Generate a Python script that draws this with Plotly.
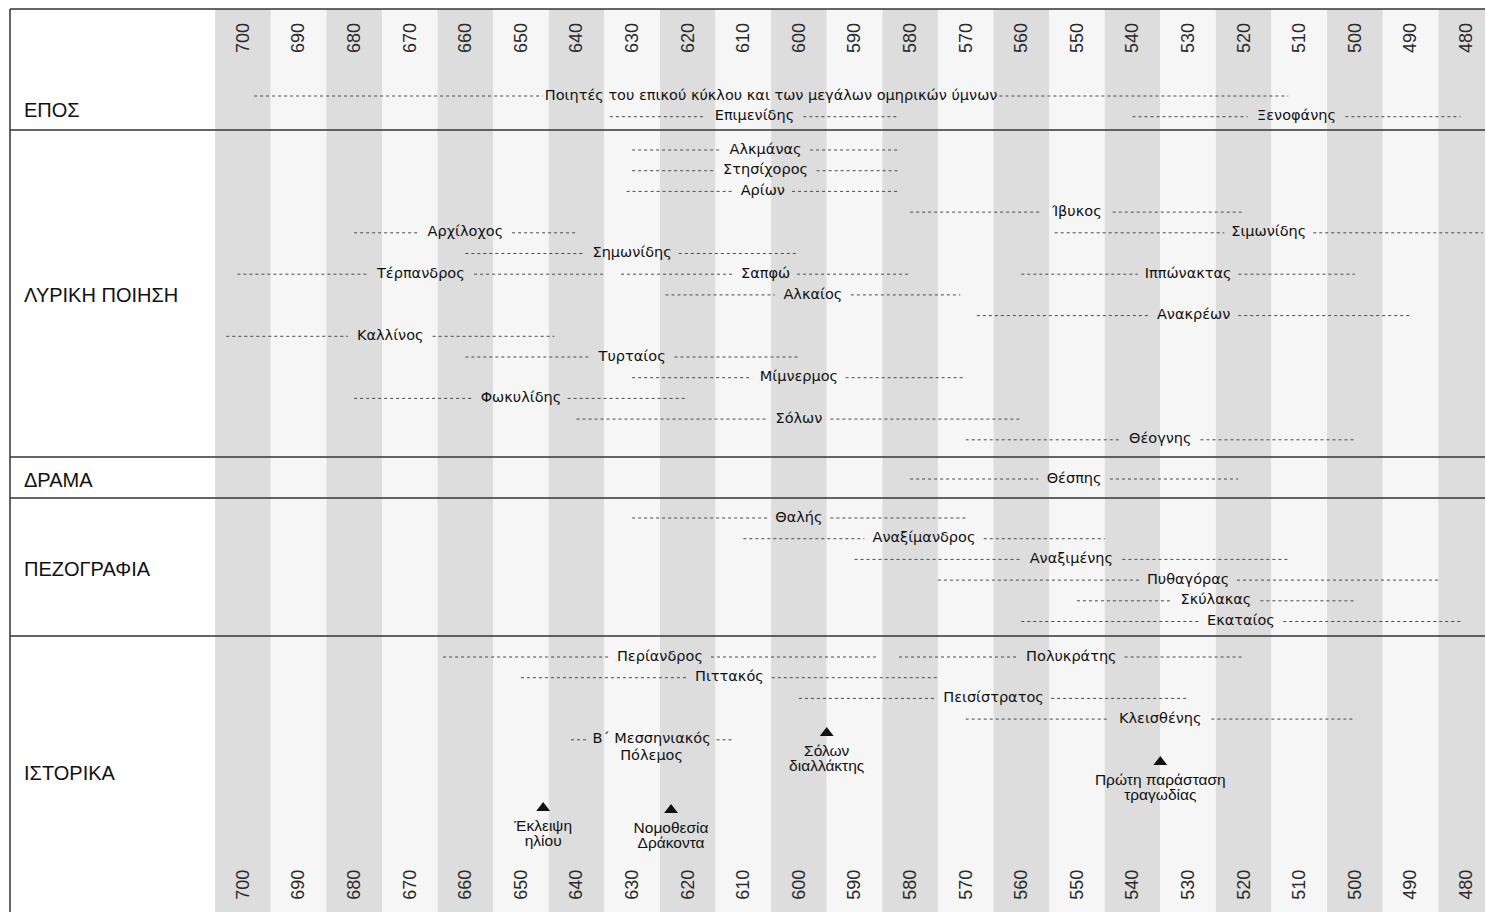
import plotly.graph_objects as go

# ---------------- data ----------------
tick_years = list(range(700, 479, -10))

epic_names = ["Ποιητές του επικού κύκλου και των μεγάλων ομηρικών ύμνων", "Επιμενίδης", "Ξενοφάνης"]
epic_start = [698, 634, 540]
epic_end = [512, 582, 481]
epic_row = [0, 1, 1]

lyric_names = ["Αλκμάνας", "Στησίχορος", "Αρίων", "Ίβυκος", "Αρχίλοχος", "Σιμωνίδης",
               "Σημωνίδης", "Τέρπανδρος", "Σαπφώ", "Ιππώνακτας", "Αλκαίος", "Ανακρέων",
               "Καλλίνος", "Τυρταίος", "Μίμνερμος", "Φωκυλίδης", "Σόλων", "Θέογνης"]
lyric_start = [630, 630, 631, 580, 680, 554, 660, 701, 632, 560, 624, 568, 703, 660, 630, 680, 640, 570]
lyric_end = [582, 582, 582, 520, 640, 477, 600, 635, 580, 500, 571, 490, 644, 600, 570, 620, 560, 500]
lyric_row = [0, 1, 2, 3, 4, 4, 5, 6, 6, 6, 7, 8, 9, 10, 11, 12, 13, 14]

drama_names = ["Θέσπης"]
drama_start = [580]
drama_end = [521]
drama_row = [0]

prose_names = ["Θαλής", "Αναξίμανδρος", "Αναξιμένης", "Πυθαγόρας", "Σκύλακας", "Εκαταίος"]
prose_start = [630, 610, 590, 575, 550, 560]
prose_end = [570, 545, 512, 485, 500, 481]
prose_row = [0, 1, 2, 3, 4, 5]

hist_names = ["Περίανδρος", "Πολυκράτης", "Πιττακός", "Πεισίστρατος", "Κλεισθένης",
              "Β΄ Μεσσηνιακός\nΠόλεμος"]
hist_start = [664, 582, 650, 600, 570, 641]
hist_end = [586, 520, 575, 530, 500, 612]
hist_row = [0, 0, 1, 2, 3, 4]

event_names = ["Σόλων\nδιαλλάκτης", "Πρώτη παράσταση\nτραγωδίας", "Έκλειψη\nηλίου", "Νομοθεσία\nΔράκοντα"]
event_years = [595, 535, 646, 623]

category_names = ["ΕΠΟΣ", "ΛΥΡΙΚΗ ΠΟΙΗΣΗ", "ΔΡΑΜΑ", "ΠΕΖΟΓΡΑΦΙΑ", "ΙΣΤΟΡΙΚΑ"]

# ---------------- layout constants ----------------
W, H = 1485, 912
X_LEFT, X_RIGHT = 743.7, 476.6
PPY = W / (X_LEFT - X_RIGHT)          # pixels per year
ROW_STEP = 20.7
section_base = [96, 150, 479, 518, 657]
category_y = [110, 295, 480, 569, 773]
separator_y = [9, 130, 457, 498, 636]
event_level = [733, 762, 808, 810]

NAME_FONT = "DejaVu Sans"
NAME_SIZE = 14.5
PAD = 9

GREEK_NARROW = set("ιίϊΙΐ΄'l")


def text_width(s, size):
    w = 0.0
    for c in s:
        if c == " ":
            w += 0.318
        elif c in GREEK_NARROW:
            w += 0.30
        elif c.isupper():
            w += 0.70
        else:
            w += 0.60
    return w * size


sections = [
    (epic_names, epic_start, epic_end, epic_row),
    (lyric_names, lyric_start, lyric_end, lyric_row),
    (drama_names, drama_start, drama_end, drama_row),
    (prose_names, prose_start, prose_end, prose_row),
    (hist_names, hist_start, hist_end, hist_row),
]

line_x, line_y = [], []
lab_x, lab_y, lab_t = [], [], []
for si, (names, starts, ends, rows) in enumerate(sections):
    for name, s, e, r in zip(names, starts, ends, rows):
        y = section_base[si] + r * ROW_STEP
        lines = name.split("\n")
        mid = (s + e) / 2
        half = (text_width(lines[0], NAME_SIZE) / 2 + PAD) / PPY
        line_x += [s, min(s, mid + half), None, max(e, mid - half), e, None]
        line_y += [y, y, None, y, y, None]
        for k, ln in enumerate(lines):
            lab_x.append(mid)
            lab_y.append(y + k * 17)
            lab_t.append(ln)

fig = go.Figure()

fig.add_trace(go.Scatter(
    x=line_x, y=line_y, mode="lines",
    line=dict(color="#4a4a4a", width=1, dash="3px,3px"),
    hoverinfo="skip", showlegend=False))

fig.add_trace(go.Scatter(
    x=lab_x, y=lab_y, mode="text", text=lab_t, textposition="middle center",
    textfont=dict(family=NAME_FONT, size=NAME_SIZE, color="#111111"),
    hoverinfo="skip", showlegend=False))

# events
fig.add_trace(go.Scatter(
    x=event_years, y=event_level, mode="markers",
    marker=dict(symbol="triangle-up", size=12, color="#111111"),
    hoverinfo="skip", showlegend=False))
ev_x, ev_y, ev_t = [], [], []
for name, yr, lv in zip(event_names, event_years, event_level):
    for k, ln in enumerate(name.split("\n")):
        ev_x.append(yr)
        ev_y.append(lv + 19 + 15 * k)
        ev_t.append(ln)
fig.add_trace(go.Scatter(
    x=ev_x, y=ev_y, mode="text", text=ev_t, textposition="middle center",
    textfont=dict(family="Liberation Sans", size=15.5, color="#111111"),
    hoverinfo="skip", showlegend=False))

# dummy trace to activate the top axis
fig.add_trace(go.Scatter(x=[600], y=[-500], xaxis="x2", mode="markers",
                         marker=dict(opacity=0), hoverinfo="skip", showlegend=False))

# bands
for t in tick_years:
    dark = (700 - t) % 20 == 0
    fig.add_shape(type="rect", xref="x", yref="y", x0=t + 5, x1=t - 5, y0=separator_y[0], y1=H,
                  fillcolor="#dddddd" if dark else "#f6f6f6", line=dict(width=0), layer="below")

# separators
for yy in separator_y:
    fig.add_shape(type="line", xref="paper", yref="y", x0=10 / W, x1=1, y0=yy, y1=yy,
                  line=dict(color="#333333", width=1.5))
fig.add_shape(type="line", xref="paper", yref="y", x0=10 / W, x1=10 / W, y0=separator_y[0], y1=H,
              line=dict(color="#333333", width=1.5))

for name, yy in zip(category_names, category_y):
    fig.add_annotation(x=22 / W, xref="paper", y=yy, yref="y", text=name, showarrow=False,
                       xanchor="left", yanchor="middle",
                       font=dict(family="Liberation Sans", size=20, color="#111111"))

axis_common = dict(
    range=[X_LEFT, X_RIGHT], tickvals=tick_years, ticktext=[str(t) for t in tick_years],
    tickangle=-90, ticklabelposition="inside", showgrid=False, zeroline=False,
    showline=False, ticks="", tickfont=dict(family="Liberation Sans", size=18, color="#2a2a2a"),
)
fig.update_layout(
    width=W, height=H,
    margin=dict(l=0, r=0, t=0, b=0),
    paper_bgcolor="white", plot_bgcolor="white",
    xaxis=dict(side="bottom", ticklabelstandoff=3, **axis_common),
    xaxis2=dict(side="top", overlaying="x", matches="x", ticklabelstandoff=10, **axis_common),
    yaxis=dict(range=[H, 0], visible=False),
    showlegend=False,
)

fig.write_html("out.html", config={"displayModeBar": False},
               post_script="document.body.style.margin='0';")
